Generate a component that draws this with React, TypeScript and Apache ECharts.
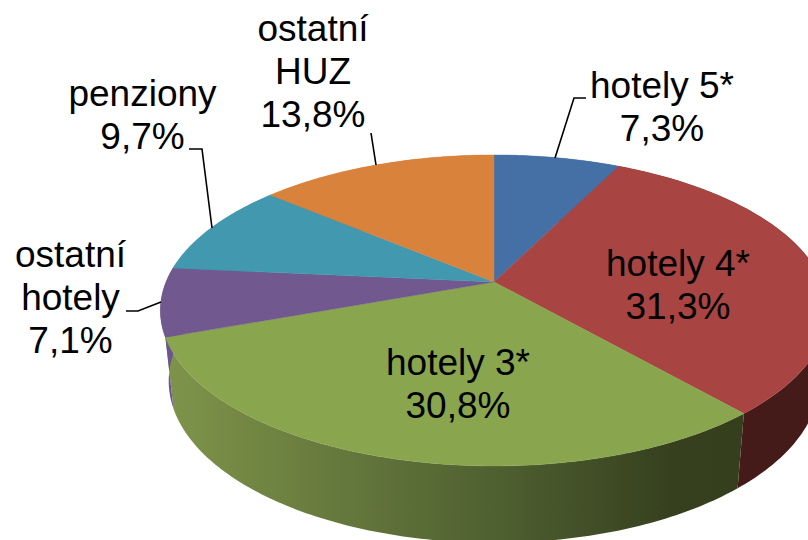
import React, { useEffect, useRef } from "react";
import * as echarts from "echarts";

const categories = ["hotely 5*", "hotely 4*", "hotely 3*", "ostatní\nhotely", "penziony", "ostatní\nHUZ"];
const values = [7.3, 31.3, 30.8, 7.1, 9.7, 13.8];
const topColors = ["#4470A5", "#A84442", "#89A54E", "#71588F", "#4198AF", "#D9823C"];

// Label anchors: [centre x, top y] in the same order as the categories
const labelAnchors = [[662, 64], [678, 241.5], [458, 340.5], [70.5, 233], [142.5, 71.5], [313, 7]];
const leaderLines = [
  [[586, 98], [574, 98], [555, 158]],
  [[371, 133], [376, 165]],
  [[189, 149], [202, 149], [212, 228]],
  [[126, 311], [138, 311], [161, 302]],
];

const CX = 494, CY = 282, A = 328, B = 150.3, K = 0.183;
const FONT = "Liberation Sans";

const total = values.reduce((s, v) => s + v, 0);

function project(share: number) {
  const t = (share / total) * Math.PI * 2;
  const u = Math.sin(t), v = -Math.cos(t);
  const d = 1 - K * v;
  return [CX + (A * u) / d, CY + (B * v) / d];
}
function toBase(p: number[]) {
  return [CX + 0.975 * (p[0] - CX), 351.5 + 1.04 * (p[1] - CY)];
}
function arcPoints(start: number, value: number) {
  const n = Math.max(8, Math.ceil(value * 4));
  const pts: number[][] = [];
  for (let i = 0; i <= n; i++) pts.push(project(start + (value * i) / n));
  return pts;
}
function startOf(i: number) {
  return values.slice(0, i).reduce((s, v) => s + v, 0);
}

function sideFill(i: number) {
  if (i === 2) {
    return new echarts.graphic.LinearGradient(165, 0, 745, 0, [
      { offset: 0, color: "#7F944A" },
      { offset: 0.58, color: "#4E5F30" },
      { offset: 0.88, color: "#363F1E" },
      { offset: 1, color: "#353E1D" },
    ], true);
  }
  if (i === 1) return "#451B19";
  if (i === 3) return "#6A5592";
  return topColors[i];
}

export default function App() {
  const ref = useRef<HTMLDivElement>(null);
  useEffect(() => {
    document.body.style.margin = "0";
    const chart = echarts.init(ref.current!, undefined, { renderer: "svg" });
    const data = values.map((v, i) => ({ name: categories[i].replace("\n", " "), value: v }));
    const graphicEls: any[] = [];
    leaderLines.forEach((pts) => {
      graphicEls.push({
        type: "polyline",
        z: 10,
        shape: { points: pts },
        style: { stroke: "#000", lineWidth: 1.6, fill: "none" },
      });
    });
    categories.forEach((c, i) => {
      graphicEls.push({
        type: "text",
        z: 11,
        x: labelAnchors[i][0],
        y: labelAnchors[i][1],
        style: {
          text: `${c}\n${values[i].toFixed(1).replace(".", ",")}%`,
          font: `37px "${FONT}"`,
          fill: "#000",
          align: "center",
          verticalAlign: "top",
          lineHeight: 43,
        },
      });
    });
    chart.setOption({
      animation: false,
      backgroundColor: "#fff",
      graphic: graphicEls,
      series: [
        {
          type: "custom",
          coordinateSystem: "none",
          z: 1,
          silent: true,
          data,
          renderItem: (params: any, api: any) => {
            const i = params.dataIndex;
            const top = arcPoints(startOf(i), api.value(0));
            const base = top.map(toBase).reverse();
            const fill = sideFill(i);
            return {
              type: "polygon",
              shape: { points: [...top, ...base] },
              style: { fill },
            };
          },
        },
        {
          type: "custom",
          coordinateSystem: "none",
          z: 2,
          silent: true,
          data,
          renderItem: (params: any, api: any) => {
            const i = params.dataIndex;
            const pts = arcPoints(startOf(i), api.value(0));
            return {
              type: "polygon",
              shape: { points: [[CX, CY], ...pts] },
              style: { fill: topColors[i], stroke: topColors[i], lineWidth: 0.4 },
            };
          },
        },
      ],
    });
    return () => chart.dispose();
  }, []);
  return <div ref={ref} style={{ width: 808, height: 540 }} />;
}
